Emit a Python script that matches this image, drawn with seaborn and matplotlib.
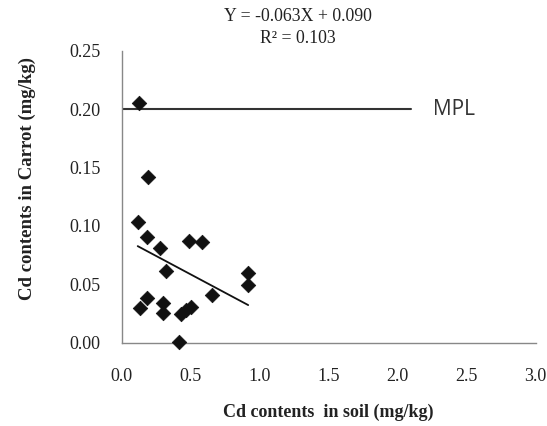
import matplotlib
matplotlib.use("Agg")
import matplotlib.pyplot as plt
import seaborn as sns
import numpy as np
import pandas as pd

soil_cd = [0.128, 0.188, 0.116, 0.181, 0.278, 0.321, 0.490, 0.580, 0.917, 0.917,
           0.652, 0.181, 0.133, 0.300, 0.300, 0.430, 0.465, 0.500, 0.415]
carrot_cd = [0.205, 0.142, 0.1036, 0.0908, 0.0813, 0.0616, 0.0873, 0.0865, 0.0600, 0.0494,
             0.0408, 0.0380, 0.0294, 0.0337, 0.0252, 0.0250, 0.0280, 0.0310, 0.001]
slope = -0.063
intercept = 0.090
r_squared = 0.103
mpl_value = 0.20
mpl_x_end = 2.1
x_ticks = [0.0, 0.5, 1.0, 1.5, 2.0, 2.5, 3.0]
y_ticks = [0.00, 0.05, 0.10, 0.15, 0.20, 0.25]

df = pd.DataFrame({"soil": soil_cd, "carrot": carrot_cd})

sns.set_theme(style="white")
plt.rcParams['font.family'] = ['Liberation Serif', 'DejaVu Serif']

fig = plt.figure(figsize=(5.47, 4.26), dpi=100)
ax = fig.add_axes([0.2225, 0.1955, 0.7565, 0.6855])

# MPL line
ax.plot([0, mpl_x_end], [mpl_value, mpl_value], color="#333333", lw=1.5, zorder=1)
ax.text(2.26, mpl_value, "MPL", fontsize=15, color="#333333", va="center", ha="left",
        family=['Open Sans', 'DejaVu Sans'])

# regression line
xs = np.array([min(soil_cd), max(soil_cd)])
ax.plot(xs, slope * xs + intercept, color="#111111", lw=1.3, zorder=2)

sns.scatterplot(data=df, x="soil", y="carrot", marker="D", s=55, color="#111111",
                edgecolor="#111111", linewidth=0.5, ax=ax, zorder=3, clip_on=False)

ax.set_xlim(0, 3.0)
ax.set_ylim(0, 0.25)
ax.set_xticks(x_ticks)
ax.set_yticks(y_ticks)
ax.set_xticklabels([f"{v:.1f}" for v in x_ticks])
ax.set_yticklabels([f"{v:.2f}" for v in y_ticks])
ax.tick_params(axis="both", which="both", direction="out", length=4, width=1,
               color="#888888", labelsize=13, labelcolor="#222222")
ax.tick_params(axis="y", pad=11)
ax.tick_params(axis="x", pad=14)

for side in ["top", "right"]:
    ax.spines[side].set_visible(False)
for side in ["left", "bottom"]:
    ax.spines[side].set_color("#888888")
    ax.spines[side].set_linewidth(1.0)

ax.set_xlabel("Cd contents  in soil (mg/kg)", fontsize=13, fontweight="bold", color="#222222")
ax.xaxis.set_label_coords(0.5, -0.21)
ax.set_ylabel("Cd contents in Carrot (mg/kg)", fontsize=13.5, fontweight="bold", color="#222222")
ax.yaxis.set_label_coords(-0.207, 0.564)

fig.text(0.545, 0.961, f"Y = {slope:.3f}X + {intercept:.3f}", ha="center", va="center",
         fontsize=12.8, color="#222222")
fig.text(0.545, 0.909, f"R² = {r_squared:.3f}", ha="center", va="center",
         fontsize=12.8, color="#222222")

fig.savefig("out.png", dpi=100, facecolor="white")
